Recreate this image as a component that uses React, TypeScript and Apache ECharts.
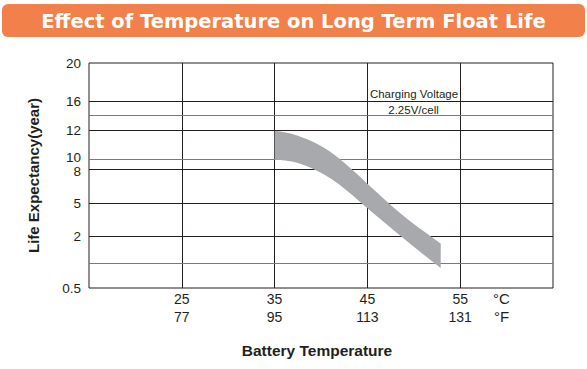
import React, { useEffect, useRef } from 'react';
import * as echarts from 'echarts';

// ---- data ----
const chartTitle = 'Effect of Temperature on Long Term Float Life';
const xTicksC = [25, 35, 45, 55];
const xTicksF = [77, 95, 113, 131];
// non-uniform y scale of the original: life values and where they sit on the axis
const yTickYears = [0.5, 1, 2, 5, 8, 10, 12, 14, 16, 20];
const yTickLabels = ['0.5', '', '2', '5', '8', '10', '12', '', '16', '20'];
const yTickStops = [0, 25, 51.6, 85, 118.3, 128.3, 158, 172.3, 186.6, 225];
// float-life band (years) versus battery temperature (°C)
const bandTempC = [35, 37, 39, 41, 43, 45, 47, 49, 51, 52.9];
const upperLife = [11.95, 11.72, 11.24, 10.54, 8.6, 6.74, 5.21, 3.77, 2.51, 1.73];
const lowerLife = [10, 9.6, 8.3, 7.23, 5.97, 4.53, 3.14, 1.89, 1.33, 0.9];

function toAxis(y: number): number {
  const n = yTickYears.length;
  for (let i = 0; i < n - 1; i++) {
    const a = yTickYears[i];
    const b = yTickYears[i + 1];
    if (y <= b || i === n - 2) {
      const t = (y - a) / (b - a);
      return yTickStops[i] + t * (yTickStops[i + 1] - yTickStops[i]);
    }
  }
  return 0;
}

// Catmull-Rom spline through pixel points, as cubic bezier path commands
function splineCmds(P: number[][]): string {
  let d = '';
  for (let i = 0; i < P.length - 1; i++) {
    const p0 = P[i - 1] || P[i];
    const p1 = P[i];
    const p2 = P[i + 1];
    const p3 = P[i + 2] || P[i + 1];
    const c1x = p1[0] + (p2[0] - p0[0]) / 6;
    const c1y = p1[1] + (p2[1] - p0[1]) / 6;
    const c2x = p2[0] - (p3[0] - p1[0]) / 6;
    const c2y = p2[1] - (p3[1] - p1[1]) / 6;
    d += ` C${c1x.toFixed(2)} ${c1y.toFixed(2)} ${c2x.toFixed(2)} ${c2y.toFixed(2)} ${p2[0].toFixed(2)} ${p2[1].toFixed(2)}`;
  }
  return d;
}

const TEXT = '#231F20';
const FAINT = new Set([1, 10, 14]);

export default function App() {
  const ref = useRef<HTMLDivElement>(null);
  useEffect(() => {
    if (!ref.current) return;
    const chart = echarts.init(ref.current, undefined, { renderer: 'svg' });
    const labeledStops = yTickStops.filter((_, i) => yTickLabels[i] !== '');
    const innerY = yTickYears
      .map((v, i) => ({ v, s: yTickStops[i] }))
      .filter((_, i) => i > 0 && i < yTickYears.length - 1);

    const markData: any[] = [
      ...xTicksC.map((v) => ({ xAxis: v, lineStyle: { color: TEXT, width: 1, type: 'solid' } })),
      ...innerY.map((d) => ({
        yAxis: d.s,
        lineStyle: { color: FAINT.has(d.v) ? '#7a7a7a' : TEXT, width: 1, type: 'solid' },
      })),
    ];

    const bandData = bandTempC.map((x, i) => [x, toAxis(upperLife[i]), toAxis(lowerLife[i])]);
    const labelFont = { fontSize: 13.5, color: TEXT, fontFamily: 'Liberation Sans, Arial, sans-serif' };

    const option: any = {
      animation: false,
      backgroundColor: '#ffffff',
      textStyle: { fontFamily: 'Liberation Sans, Arial, sans-serif' },
      grid: {
        left: 89,
        right: 34,
        top: 63,
        bottom: 81,
        show: true,
        borderColor: TEXT,
        borderWidth: 1,
      },
      xAxis: {
        type: 'value',
        min: 15,
        max: 65,
        axisLine: { show: false },
        axisTick: { show: false },
        splitLine: { show: false },
        axisLabel: {
          customValues: xTicksC,
          formatter: (v: number) => {
            const i = xTicksC.indexOf(v);
            return i >= 0 ? `${v}\n${xTicksF[i]}` : '';
          },
          fontSize: 14,
          lineHeight: 18,
          color: TEXT,
          margin: 2,
        },
        name: 'Battery Temperature',
        nameLocation: 'middle',
        nameGap: 54,
        nameTextStyle: {
          fontSize: 15.5,
          fontWeight: 'bold',
          color: TEXT,
          padding: [0, 8, 0, 0],
        },
      },
      yAxis: {
        type: 'value',
        min: 0,
        max: 225,
        axisLine: { show: false },
        axisTick: { show: false },
        splitLine: { show: false },
        axisLabel: {
          customValues: labeledStops,
          formatter: (v: number) => {
            const i = yTickStops.findIndex((s) => Math.abs(s - v) < 0.01);
            if (i < 0) return '';
            const t = yTickLabels[i];
            if (t === '10') return `{u|${t}}`;
            if (t === '8') return `{d|${t}}`;
            return `{n|${t}}`;
          },
          ...labelFont,
          margin: 8,
          rich: {
            n: { ...labelFont, lineHeight: 14 },
            u: { ...labelFont, lineHeight: 12, padding: [0, 0, 4, 0] },
            d: { ...labelFont, lineHeight: 12, padding: [4, 0, 0, 0] },
          },
        },
        name: 'Life Expectancy(year)',
        nameLocation: 'middle',
        nameRotate: 90,
        nameGap: 48,
        nameTextStyle: { fontSize: 15, fontWeight: 'bold', color: TEXT },
      },
      graphic: [
        {
          type: 'rect',
          shape: { x: 2, y: 4, width: 583, height: 33, r: 6 },
          style: { fill: '#F1804A' },
        },
        {
          type: 'text',
          x: 293.5,
          y: 21,
          style: {
            text: chartTitle,
            fill: '#ffffff',
            fontSize: 19.5,
            fontWeight: 'bold',
            fontFamily: 'DejaVu Sans',
            align: 'center',
            verticalAlign: 'middle',
          },
        },
        {
          type: 'text',
          x: 501.5,
          y: 298,
          style: { text: '°C', fill: TEXT, fontSize: 15, fontFamily: 'Liberation Sans', align: 'center', verticalAlign: 'middle' },
        },
        {
          type: 'text',
          x: 501.5,
          y: 316,
          style: { text: '°F', fill: TEXT, fontSize: 15, fontFamily: 'Liberation Sans', align: 'center', verticalAlign: 'middle' },
        },
        {
          type: 'text',
          x: 414,
          y: 94,
          style: { text: 'Charging Voltage', fill: TEXT, fontSize: 11.5, fontFamily: 'Liberation Sans', align: 'center', verticalAlign: 'middle' },
        },
        {
          type: 'text',
          x: 413.5,
          y: 110,
          style: { text: '2.25V/cell', fill: TEXT, fontSize: 11.5, fontFamily: 'Liberation Sans', align: 'center', verticalAlign: 'middle' },
        },
      ],
      series: [
        {
          type: 'line',
          name: 'grid',
          symbol: 'none',
          silent: true,
          z: 1,
          data: [],
          lineStyle: { width: 0, opacity: 0 },
          markLine: {
            silent: true,
            symbol: 'none',
            z: 1,
            animation: false,
            label: { show: false },
            emphasis: { disabled: true },
            data: markData,
          },
        },
        {
          type: 'custom',
          name: 'band',
          silent: true,
          z: 3,
          data: bandData,
          encode: { x: 0, y: [1, 2] },
          renderItem: (params: any, api: any) => {
            if (params.dataIndex !== 0) return null;
            const up = bandData.map((d) => api.coord([d[0], d[1]]));
            const lo = bandData.map((d) => api.coord([d[0], d[2]])).reverse();
            const pathData =
              `M${up[0][0].toFixed(2)} ${up[0][1].toFixed(2)}` +
              splineCmds(up) +
              ` L${lo[0][0].toFixed(2)} ${lo[0][1].toFixed(2)}` +
              splineCmds(lo) +
              ' Z';
            return {
              type: 'path',
              shape: { pathData },
              style: { fill: '#A7A9AC', stroke: 'none' },
            };
          },
        },
      ],
    };
    chart.setOption(option);
    return () => chart.dispose();
  }, []);
  return <div ref={ref} style={{ position: 'fixed', left: 0, top: 0, width: 587, height: 369 }} />;
}
